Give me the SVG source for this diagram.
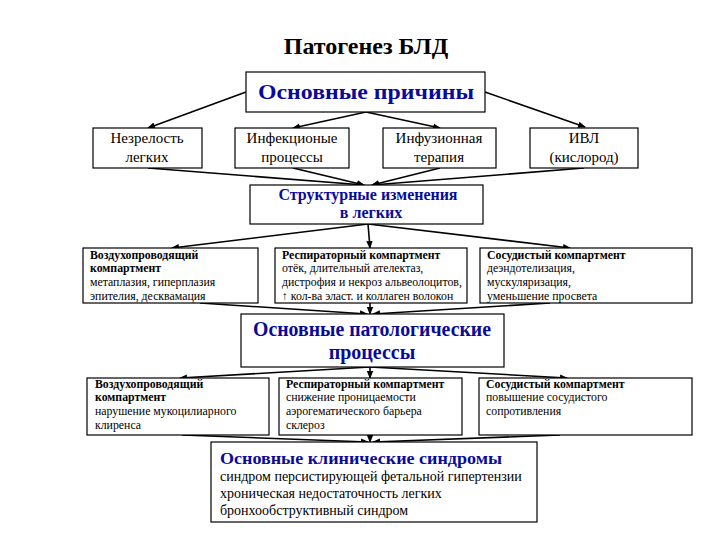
<svg xmlns="http://www.w3.org/2000/svg" width="720" height="540" viewBox="0 0 720 540" font-family="'Liberation Serif', 'Times New Roman', serif">
<style>
  text{font-family:'Liberation Serif','Times New Roman',serif;fill:#000}
  .box{fill:#fff;stroke:#000;stroke-width:1.2}
  .c{text-anchor:middle}
  .h{font-weight:bold;fill:#0a0a9a}
  .s{font-size:11.8px}
  .sb{font-size:11.8px;font-weight:bold}
  .m{font-size:15px}
  .conn line{stroke:#000;stroke-width:1.6;fill:none}
</style>
<defs>
  <marker id="ah" markerWidth="8" markerHeight="8" refX="7" refY="4" orient="auto" markerUnits="userSpaceOnUse">
    <path d="M0,0.8 L8,4 L0,7.2 Z" fill="#000"/>
  </marker>
</defs>
<rect width="720" height="540" fill="#fff"/>
<text class="c" x="366" y="54" font-size="24" font-weight="bold">Патогенез БЛД</text>

<g class="conn">
  <line x1="246" y1="92" x2="148" y2="128" marker-end="url(#ah)"/>
  <line x1="485" y1="92" x2="585" y2="127" marker-end="url(#ah)"/>
  <line x1="366" y1="112" x2="293" y2="128" marker-end="url(#ah)"/>
  <line x1="366" y1="112" x2="440" y2="128" marker-end="url(#ah)"/>
  <line x1="148" y1="168" x2="364" y2="185" marker-end="url(#ah)"/>
  <line x1="293" y1="168" x2="364" y2="185" marker-end="url(#ah)"/>
  <line x1="440" y1="168" x2="372" y2="185" marker-end="url(#ah)"/>
  <line x1="584" y1="168" x2="372" y2="185" marker-end="url(#ah)"/>
  <line x1="368" y1="224" x2="172" y2="248" marker-end="url(#ah)"/>
  <line x1="368" y1="224" x2="370" y2="248" marker-end="url(#ah)"/>
  <line x1="368" y1="224" x2="570" y2="248" marker-end="url(#ah)"/>
  <line x1="200" y1="303" x2="367" y2="314" marker-end="url(#ah)"/>
  <line x1="370" y1="303" x2="370" y2="314" marker-end="url(#ah)"/>
  <line x1="550" y1="303" x2="373" y2="314" marker-end="url(#ah)"/>
  <line x1="370" y1="367" x2="180" y2="378" marker-end="url(#ah)"/>
  <line x1="370" y1="367" x2="370" y2="378" marker-end="url(#ah)"/>
  <line x1="370" y1="367" x2="567" y2="378" marker-end="url(#ah)"/>
  <line x1="182" y1="435" x2="368" y2="442" marker-end="url(#ah)"/>
  <line x1="370" y1="435" x2="370" y2="442" marker-end="url(#ah)"/>
  <line x1="560" y1="435" x2="373" y2="442" marker-end="url(#ah)"/>
</g>

<g id="causes">
  <rect class="box" x="246" y="72" width="239" height="40"/>
  <text class="c h" x="366" y="99" font-size="22" textLength="216" lengthAdjust="spacingAndGlyphs">Основные причины</text>
</g>
<g id="immaturity">
  <rect class="box" x="93" y="128" width="109" height="40"/>
  <text class="c m" x="147" y="143">Незрелость</text>
  <text class="c m" x="147" y="162">легких</text>
</g>
<g id="infection">
  <rect class="box" x="235" y="128" width="114" height="40"/>
  <text class="c m" x="292" y="143">Инфекционые</text>
  <text class="c m" x="292" y="162">процессы</text>
</g>
<g id="infusion">
  <rect class="box" x="383" y="128" width="113" height="40"/>
  <text class="c m" x="439" y="143">Инфузионная</text>
  <text class="c m" x="439" y="162">терапия</text>
</g>
<g id="ventilation">
  <rect class="box" x="530" y="128" width="108" height="40"/>
  <text class="c m" x="584" y="143">ИВЛ</text>
  <text class="c m" x="584" y="162">(кислород)</text>
</g>

<g id="structural">
  <rect class="box" x="250" y="185" width="233" height="39"/>
  <text class="c h" x="368" y="200" font-size="16" textLength="179" lengthAdjust="spacingAndGlyphs">Структурные изменения</text>
  <text class="c h" x="371" y="218" font-size="16">в легких</text>
</g>

<g id="s-airway">
  <rect class="box" x="83" y="248" width="175" height="55"/>
  <text class="sb" x="90" y="259">Воздухопроводящий</text>
  <text class="sb" x="90" y="272">компартмент</text>
  <text class="s" x="90" y="286">метаплазия, гиперплазия</text>
  <text class="s" x="90" y="300">эпителия, десквамация</text>
</g>
<g id="s-resp">
  <rect class="box" x="275" y="248" width="192" height="55"/>
  <text class="sb" x="282" y="259">Респираторный компартмент</text>
  <text class="s" x="282" y="272">отёк, длительный ателектаз,</text>
  <text class="s" x="282" y="286">дистрофия и некроз альвеолоцитов,</text>
  <text class="s" x="282" y="300">↑ кол-ва эласт. и коллаген волокон</text>
</g>
<g id="s-vasc">
  <rect class="box" x="480" y="248" width="212" height="55"/>
  <text class="sb" x="487" y="259">Сосудистый компартмент</text>
  <text class="s" x="487" y="272">деэндотелизация,</text>
  <text class="s" x="487" y="286">мускуляризация,</text>
  <text class="s" x="487" y="300">уменьшение просвета</text>
</g>

<g id="pathological">
  <rect class="box" x="241" y="314" width="263" height="53"/>
  <text class="c h" x="372" y="336" font-size="20" textLength="238" lengthAdjust="spacingAndGlyphs">Основные патологические</text>
  <text class="c h" x="372" y="359" font-size="20">процессы</text>
</g>

<g id="p-airway">
  <rect class="box" x="87" y="378" width="182" height="57"/>
  <text class="sb" x="95" y="388">Воздухопроводящий</text>
  <text class="sb" x="95" y="401">компартмент</text>
  <text class="s" x="95" y="415">нарушение мукоцилиарного</text>
  <text class="s" x="95" y="429">клиренса</text>
</g>
<g id="p-resp">
  <rect class="box" x="279" y="378" width="183" height="57"/>
  <text class="sb" x="286" y="388">Респираторный компартмент</text>
  <text class="s" x="286" y="401">снижение проницаемости</text>
  <text class="s" x="286" y="415">аэрогематического барьера</text>
  <text class="s" x="286" y="429">склероз</text>
</g>
<g id="p-vasc">
  <rect class="box" x="479" y="378" width="213" height="57"/>
  <text class="sb" x="486" y="388">Сосудистый компартмент</text>
  <text class="s" x="486" y="401">повышение сосудистого</text>
  <text class="s" x="486" y="415">сопротивления</text>
</g>

<g id="clinical">
  <rect class="box" x="211" y="442" width="326" height="80"/>
  <text class="h" x="220" y="464" font-size="17" textLength="282" lengthAdjust="spacingAndGlyphs">Основные клинические синдромы</text>
  <text x="220" y="481" font-size="14">синдром персистирующей фетальной гипертензии</text>
  <text x="220" y="498" font-size="14">хроническая недостаточность легких</text>
  <text x="220" y="515" font-size="14">бронхообструктивный синдром</text>
</g>
</svg>
